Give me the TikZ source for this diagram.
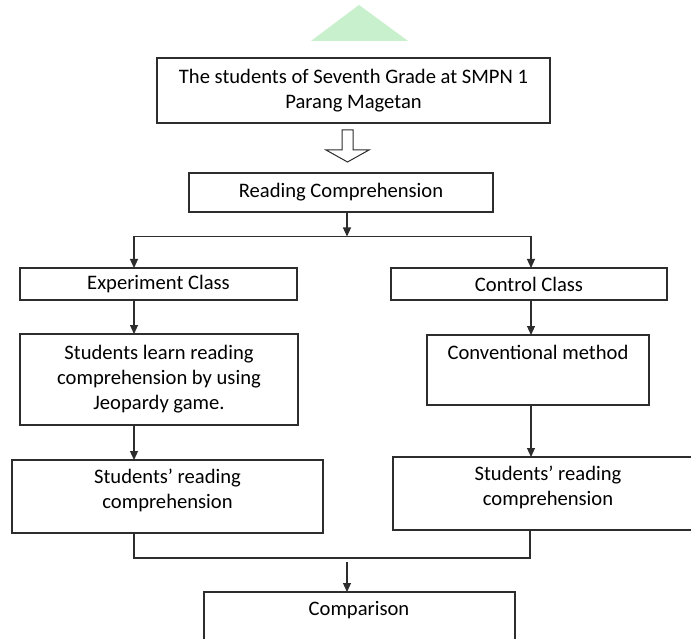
\documentclass[tikz,border=0pt]{standalone}
\usepackage{fontspec}
\setmainfont{Carlito}
\usetikzlibrary{arrows.meta}
\definecolor{linec}{RGB}{45,45,45}
\definecolor{trigreen}{RGB}{200,240,204}
\tikzset{
  bx/.style={draw=linec, line width=1.1pt, inner sep=0pt, outer sep=0pt,
    font=\fontsize{20.6}{25}\selectfont, align=center},
  tx/.style={inner sep=0pt, font=\fontsize{20.6}{25}\selectfont, align=center},
  arr/.style={draw=linec, line width=1.1pt, -{Triangle[length=9pt,width=8pt]}},
  ln/.style={draw=linec, line width=1.1pt}
}
\begin{document}
\begin{tikzpicture}[x=1pt,y=-1pt]
\useasboundingbox (0,0) rectangle (691,639);
\clip (0,0) rectangle (691,639);
\fill[white] (0,0) rectangle (691,639);

% decorative triangle
\fill[trigreen] (359,5) -- (311,41) -- (408,41) -- cycle;

% boxes
\node[bx, minimum width=393pt, minimum height=65pt] (b1) at (353.5,90.5)
  {The students of Seventh Grade at SMPN 1\\Parang Magetan};
\node[bx, minimum width=304pt, minimum height=39pt] (b2) at (341,192.5)
  {Reading Comprehension};
\node[bx, minimum width=277pt, minimum height=32pt] (ex) at (158.5,284)
  {Experiment Class};
\node[bx, minimum width=276pt, minimum height=32pt] (ct) at (529,284)
  {Control Class};
\node[bx, minimum width=278pt, minimum height=91pt] (sl) at (159,379.5)
  {Students learn reading\\comprehension by using\\Jeopardy game.};
\node[bx, minimum width=222pt, minimum height=70pt] (cv) at (538,370) {};
\node[tx] (cvt) at (538,352) {Conventional method};
\node[bx, minimum width=311pt, minimum height=73pt] (lr) at (167.5,496.5) {};
\node[tx] (lrt) at (167.5,490.5) {Students’ reading\\comprehension};
\node[bx, minimum width=307pt, minimum height=73pt] (rr) at (546.5,493.5) {};
\node[tx] (rrt) at (548,487.5) {Students’ reading\\comprehension};
\node[bx, minimum width=311pt, minimum height=68pt] (cp) at (359.5,626) {};
\node[tx] (cpt) at (359,610) {Comparison};

% hollow block arrow
\draw[linec, line width=1pt, fill=white]
  (342,130) -- (353,130) -- (353,150) -- (369,150) -- (347.5,162)
  -- (326,150) -- (342,150) -- cycle;

% connectors
\coordinate (split) at (347,236.5);
\coordinate (lsplit) at (134,236.5);
\coordinate (rsplit) at (531,236.5);
\coordinate (jl) at (134,558);
\coordinate (jr) at (530,558);
\coordinate (mj) at (347,562);

\draw[arr] (b2.south -| split) -- (split);
\draw[ln] (lsplit) -- (rsplit);
\draw[arr] (lsplit) -- (lsplit |- ex.north);
\draw[arr] (rsplit) -- (rsplit |- ct.north);
\draw[arr] (ex.south -| lsplit) -- (lsplit |- sl.north);
\draw[arr] (ct.south -| rsplit) -- (rsplit |- cv.north);
\draw[arr] (sl.south -| lsplit) -- (lsplit |- lr.north);
\draw[arr] (cv.south -| rsplit) -- (rsplit |- rr.north);
\draw[ln] (lr.south -| jl) -- (jl) -- (jr) -- (rr.south -| jr);
\draw[arr] (mj) -- (mj |- cp.north);
\end{tikzpicture}
\end{document}
